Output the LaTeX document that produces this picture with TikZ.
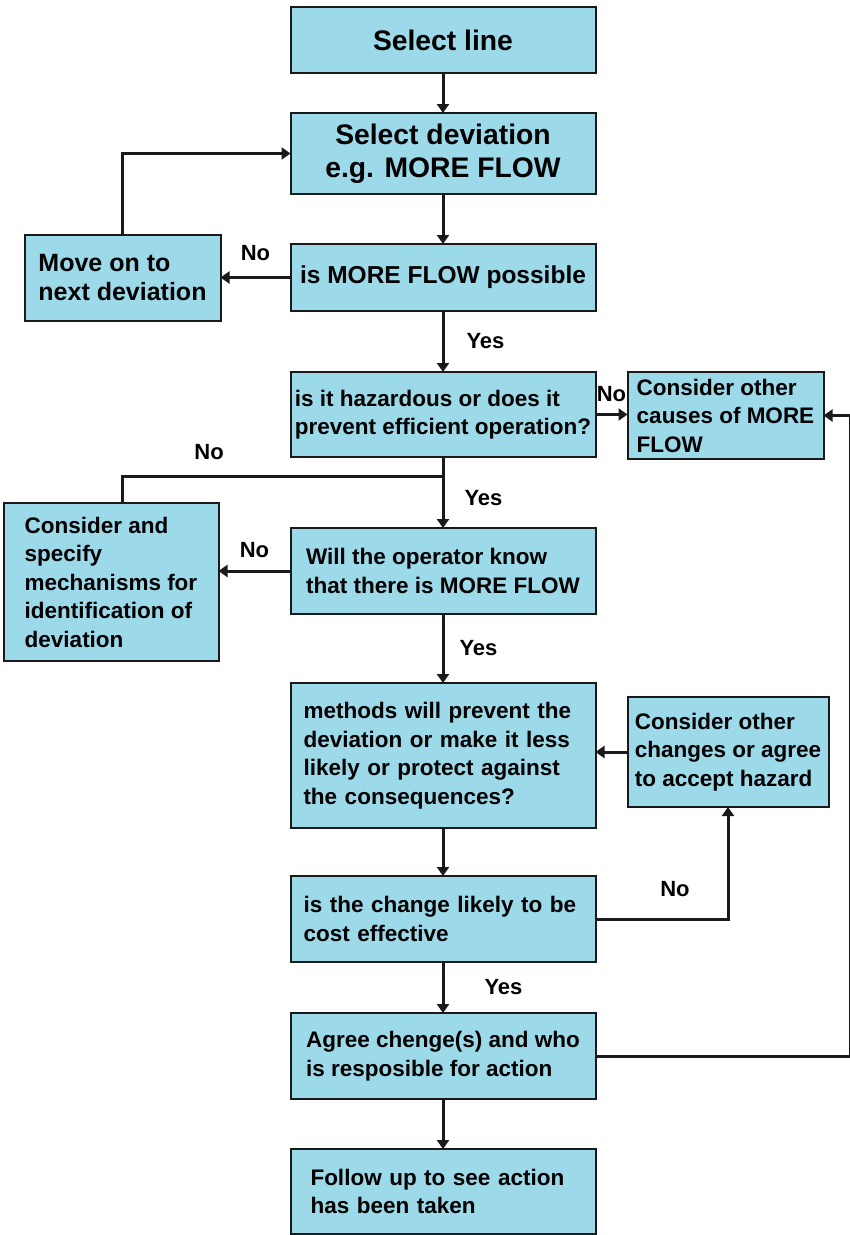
\documentclass[tikz,border=0pt]{standalone}
\usepackage{fontspec}
\setmainfont{Liberation Sans}
\usetikzlibrary{arrows.meta, positioning}
\definecolor{box}{HTML}{9CD9E9}
\definecolor{edge}{HTML}{1A1A1A}
\tikzset{
  bx/.style={draw=edge, line width=2pt, fill=box, minimum width=305pt, align=left, inner sep=4pt, outer sep=0pt, font=\bfseries\fontsize{22.5}{28.5}\selectfont},
  bxb/.style={bx, align=center, font=\bfseries\fontsize{28.3}{33.3}\selectfont},
  bxm/.style={bx, font=\bfseries\fontsize{24.5}{29.5}\selectfont},
  a/.style={-{Triangle[length=9pt,width=12pt]}, draw=edge, line width=3pt},
  ln/.style={draw=edge, line width=3pt},
  lbl/.style={font=\bfseries\fontsize{22}{26}\selectfont, inner sep=0pt},
}
\begin{document}
\begin{tikzpicture}[x=1pt, y=1pt]
\useasboundingbox (0,0) rectangle (850,-1235);
\node[bxb, minimum height=66pt] (sl) at (443,-40) {Select line};
\node[bxb, minimum height=81pt, below=40pt of sl] (sd) {Select deviation\\ e.g. MORE FLOW};
\node[bxm, minimum height=67pt, below=50pt of sd] (mf) {is MORE FLOW possible};
\node[bx, minimum height=85pt, below=61pt of mf] (hz) {is it hazardous or does it\\prevent efficient operation?};
\node[bx, minimum height=86pt, below=71pt of hz] (op) {Will the operator know\\that there is MORE FLOW};
\node[bx, minimum height=145pt, text width=279pt, below=69pt of op] (me) {methods will prevent the\\deviation or make it less\\likely or protect against\\the consequences?};
\node[bx, minimum height=86pt, text width=279pt, below=48pt of me] (ce) {is the change likely to be\\cost effective};
\node[bx, minimum height=86pt, below=51pt of ce] (ag) {Agree chenge(s) and who\\is resposible for action};
\node[bx, minimum height=85pt, text width=265pt, below=50pt of ag] (fu) {Follow up to see action\\has been taken};

\node[bxm, font=\bfseries\fontsize{25}{29.5}\selectfont, minimum width=196pt, minimum height=86pt, left=70pt of mf] (mv) {Move on to\\next deviation};
\node[bx, minimum width=196pt, minimum height=87pt, right=32pt of hz, yshift=-1pt] (oc) {Consider other\\causes of MORE\\FLOW};
\node[bx, minimum width=215pt, minimum height=158pt, left=72pt of op, yshift=-11pt] (cs) {Consider and\\specify\\mechanisms for\\identification of\\deviation};
\node[bx, minimum width=201pt, minimum height=110pt, right=32pt of me, yshift=3.5pt] (ch) {Consider other\\changes or agree\\to accept hazard};

\coordinate[below=19pt of hz.south] (br);
\coordinate (rx) at (850.3,0);

\draw[a] (sl) -- (sd);
\draw[a] (sd) -- (mf);
\draw[a] (mf.west) -- node[lbl, above=15.5pt] {No} (mf.west -| mv.east);
\draw[a] (mv.north) |- (sd.west);
\draw[a] (mf) -- node[lbl, right=22pt] {Yes} (hz);
\draw[a] (hz.east) -- node[lbl, above=11pt] {No} (hz.east -| oc.west);
\draw[a] (hz) -- node[lbl, right=20pt, pos=0.58] {Yes} (op);
\draw[ln] (br) -- node[lbl, above=14.5pt, pos=0.73] {No} (br -| mv.north) -- (cs.north -| mv.north);
\draw[a] (op.west) -- node[lbl, above=11.5pt] {No} (op.west -| cs.east);
\draw[a] (op) -- node[lbl, right=15pt] {Yes} (me);
\draw[a] (ch.west) -- (ch.west -| me.east);
\draw[a] (me) -- (ce);
\draw[a] (ce.east) -| node[lbl, above=21pt, pos=0.3] {No} (ch.south);
\draw[a] (ce) -- node[lbl, right=40pt] {Yes} (ag);
\draw[a] (ag.east) -- (ag.east -| rx) |- (oc.east);
\draw[a] (ag) -- (fu);
\end{tikzpicture}
\end{document}
